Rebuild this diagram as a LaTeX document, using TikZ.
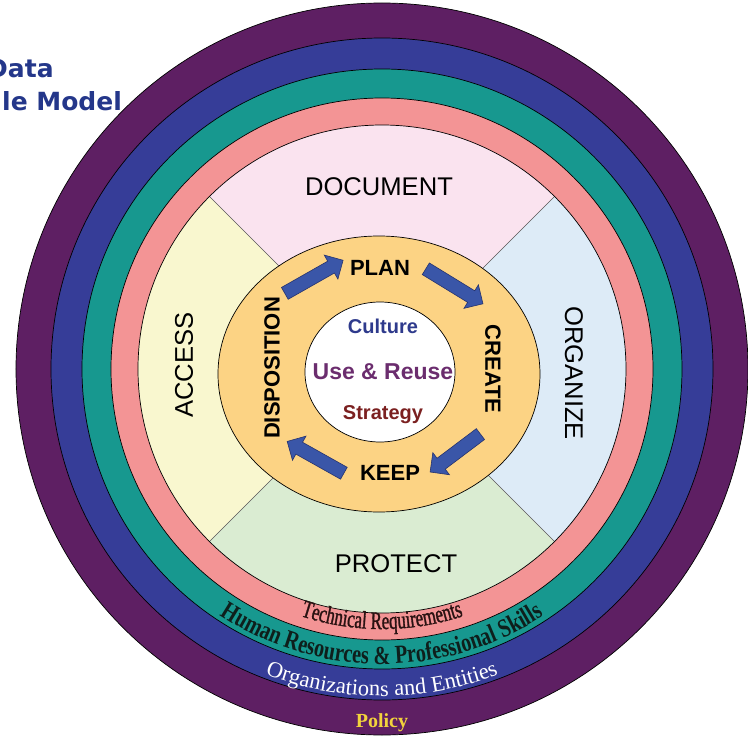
\documentclass[tikz,border=0pt]{standalone}
\usepackage{fontspec}
\setmainfont{Liberation Serif}
\setsansfont{Liberation Sans}
\newfontfamily\ringfont[FakeStretch=0.68,FakeBold=1.2]{Liberation Serif}
\newfontfamily\skillfont[FakeStretch=0.78]{Liberation Serif}
\newfontfamily\titlefont{DejaVu Sans}
\usetikzlibrary{shapes.arrows,decorations.text}

\definecolor{ringpurple}{HTML}{5E1F63}
\definecolor{ringblue}{HTML}{363D98}
\definecolor{ringteal}{HTML}{17988F}
\definecolor{ringpink}{HTML}{F39495}
\definecolor{quadpink}{HTML}{FAE3EF}
\definecolor{quadblue}{HTML}{DDEBF7}
\definecolor{quadgreen}{HTML}{DAECD2}
\definecolor{quadyellow}{HTML}{F9F7CF}
\definecolor{cycleorange}{HTML}{FCD384}
\definecolor{arrowblue}{HTML}{3A56A8}
\definecolor{arrowline}{HTML}{26336E}
\definecolor{titleblue}{HTML}{24378A}
\definecolor{culturecol}{HTML}{2E3A8C}
\definecolor{reusecol}{HTML}{6B2D6E}
\definecolor{strategycol}{HTML}{7B2020}
\definecolor{policyyellow}{HTML}{F2D33C}
\definecolor{techcol}{HTML}{2A1212}
\definecolor{skillcol}{HTML}{0E1F1C}

\newcommand{\fsize}[1]{\fontsize{#1}{#1}\selectfont}

\begin{document}
\begin{tikzpicture}[x=1pt, y=1pt]
  \tikzset{
    ring/.style={draw=black, line width=0.7pt},
    quarter/.style={draw=black!65, line width=0.5pt},
    areatext/.style={font=\sffamily\fsize{25.6}, inner sep=0pt},
    cycletext/.style={font=\sffamily\bfseries\fsize{22}, inner sep=0pt},
    coretext/.style={font=\sffamily\bfseries\fsize{#1}, inner sep=0pt},
    blockarrow/.style={single arrow, draw=arrowline, fill=arrowblue, line width=0.6pt,
      minimum height=#1, inner sep=6.5pt, single arrow head extend=7pt,
      single arrow head indent=0pt}
  }
  \useasboundingbox (-382,-371) rectangle (366,369);
  \fill[white] (-382,-371) rectangle (366,369);

  % outer rings
  \foreach \r/\c in {366/ringpurple, 331/ringblue, 300/ringteal, 271/ringpink}
    \draw[ring, fill=\c] (0,0) circle[radius=\r];

  % four areas
  \foreach \a/\c in {45/quadpink, 135/quadyellow, 225/quadgreen, -45/quadblue}
    \fill[\c] (0,0) -- (\a:244) arc[start angle=\a, end angle=\a+90, radius=244] -- cycle;
  \foreach \a in {45,135,225,315}
    \draw[quarter] (0,0) -- (\a:244);
  \draw[ring] (0,0) circle[radius=244];

  % life cycle
  \draw[ring, fill=cycleorange] (-3,-5) ellipse[x radius=161, y radius=138];
  \draw[ring, fill=white] (-2,-3) ellipse[x radius=75, y radius=70];

  \node[areatext] (document) at (-3,182) {DOCUMENT};
  \node[areatext, rotate=-90] (organize) at (192,-4) {ORGANIZE};
  \node[areatext] (protect) at (14,-195) {PROTECT};
  \node[areatext, rotate=90] (access) at (-198,4) {ACCESS};

  \node[cycletext] (plan) at (-2,101) {PLAN};
  \node[cycletext, rotate=-90] (create) at (111,0) {CREATE};
  \node[cycletext] (keep) at (8,-104) {KEEP};
  \node[cycletext, rotate=90] (disposition) at (-110,1) {DISPOSITION};

  \node[coretext=20, text=culturecol] (culture) at (1,43) {Culture};
  \node[coretext=23, text=reusecol] (reuse) at (1,-3) {Use \& Reuse};
  \node[coretext=20, text=strategycol] (strategy) at (1,-46) {Strategy};

  \node[blockarrow=67pt, rotate=29.6] (arr-plan) at (-71,90.5) {};
  \node[blockarrow=67pt, rotate=-31.5] (arr-create) at (69.5,84.5) {};
  \node[blockarrow=63pt, rotate=217] (arr-keep) at (76,-82) {};
  \node[blockarrow=65pt, rotate=150.7] (arr-dispo) at (-63.5,-90) {};

  % ring captions
  \path[decorate, decoration={text along path, text align=center, text color=techcol,
    text={|\ringfont\fsize{25}|Technical Requirements}}]
    (200:260) arc[start angle=200, end angle=340, radius=260];
  \path[decorate, decoration={text along path, text align=center, text color=skillcol,
    text={|\skillfont\bfseries\fsize{26}|Human Resources {\&} Professional Skills}}]
    (200:295) arc[start angle=200, end angle=340, radius=295];
  \path[decorate, decoration={text along path, text align=center, text color=white,
    text={|\fsize{22.5}|Organizations and Entities}}]
    (200:327) arc[start angle=200, end angle=340, radius=327];
  \node[font=\bfseries\fsize{20}, text=policyyellow, anchor=base, inner sep=0pt] (policy) at (0,-358) {Policy};

  % title, cut at the left edge
  \node[font=\titlefont\bfseries\fsize{25}, text=titleblue, anchor=base west, inner sep=0pt] (title-a) at (-395,292) {Data};
  \node[font=\titlefont\bfseries\fsize{25}, text=titleblue, anchor=base west, inner sep=0pt] (title-b) at (-380,259) {le Model};
\end{tikzpicture}
\end{document}
